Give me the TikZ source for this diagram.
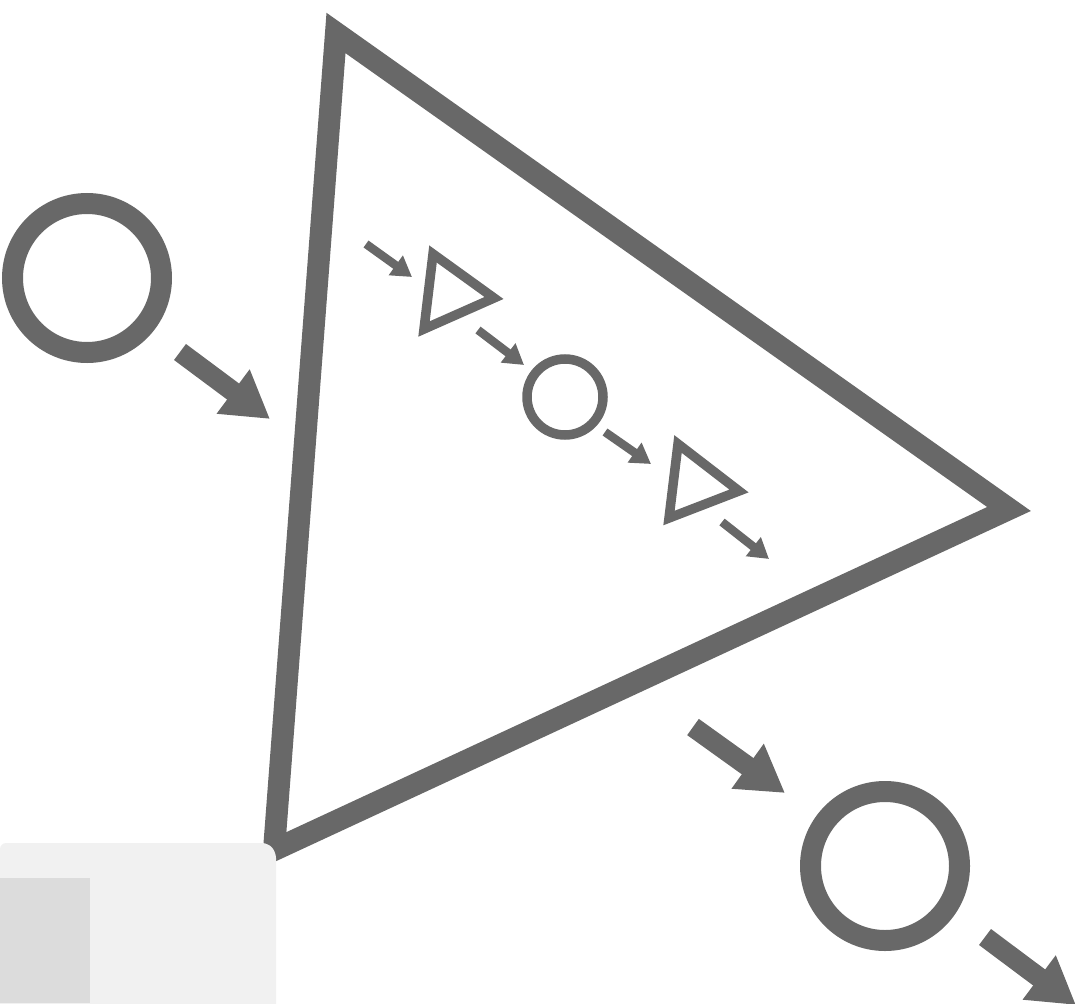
\documentclass[tikz,border=0pt]{standalone}
\usetikzlibrary{arrows.meta}
\definecolor{ink}{RGB}{104,104,104}
\definecolor{patch}{RGB}{241,241,241}
\definecolor{patchin}{RGB}{220,220,220}
\tikzset{
  bigarrow/.style={draw=ink, line width=20pt, -{Triangle[length=46pt,width=52pt]}},
  smallarrow/.style={draw=ink, line width=8.5pt, -{Triangle[length=20pt,width=23pt]}},
  bigring/.style={circle, draw=ink, line width=21pt, minimum size=149pt, inner sep=0pt},
  smallring/.style={circle, draw=ink, line width=9.5pt, minimum size=76pt, inner sep=0pt},
  outline/.style={draw=ink, line join=miter},
}
\begin{document}
\begin{tikzpicture}[x=1pt,y=-1pt]
\useasboundingbox (0,0) rectangle (1075,1003);
% big triangle
\coordinate (T1) at (336,33);
\coordinate (T2) at (1009,509);
\coordinate (T3) at (274,850);
\draw[outline, line width=22pt] (T1) -- (T2) -- (T3) -- cycle;
% outer rings
\node[bigring] (inC) at (87,278) {};
\node[bigring] (outC) at (885,866) {};
% big arrows
\coordinate (a1s) at (180,352);
\coordinate (a1e) at (270,419);
\coordinate (a2s) at (693,727);
\coordinate (a2e) at (785,793);
\coordinate (a3s) at (985,937);
\coordinate (a3e) at (1076,1005);
\draw[bigarrow] (a1s) -- (a1e);
\draw[bigarrow] (a2s) -- (a2e);
\draw[bigarrow] (a3s) -- (a3e);
% inner chain
\coordinate (p1) at (433,254);
\coordinate (p2) at (494,298);
\coordinate (p3) at (424,329);
\draw[outline, line width=9.5pt] (p1) -- (p2) -- (p3) -- cycle;
\node[smallring] (sC) at (565,397) {};
\coordinate (q1) at (678,444);
\coordinate (q2) at (739,491);
\coordinate (q3) at (669,518);
\draw[outline, line width=9.5pt] (q1) -- (q2) -- (q3) -- cycle;
\coordinate (s1s) at (366,244);
\coordinate (s1e) at (412,277);
\coordinate (s2s) at (478,330);
\coordinate (s2e) at (524,365);
\coordinate (s3s) at (605,432);
\coordinate (s3e) at (651,464);
\coordinate (s4s) at (722,522);
\coordinate (s4e) at (769,559);
\draw[smallarrow] (s1s) -- (s1e);
\draw[smallarrow] (s2s) -- (s2e);
\draw[smallarrow] (s3s) -- (s3e);
\draw[smallarrow] (s4s) -- (s4e);
% paper patch in the lower left corner
\fill[patch, rounded corners=6pt] (0,843) -- (268,843) -- (276,852) -- (276,1010) -- (0,1010) -- cycle;
\fill[patchin] (0,878) rectangle (90,1003);
\end{tikzpicture}
\end{document}
